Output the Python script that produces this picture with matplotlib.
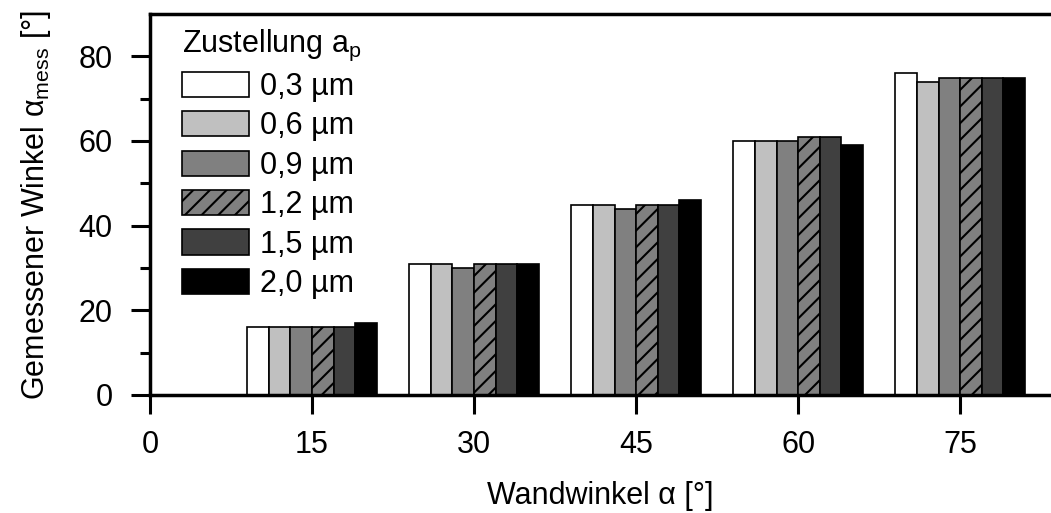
import matplotlib
matplotlib.use('Agg')
import matplotlib.pyplot as plt
import numpy as np

plt.rcParams['font.family'] = ['Liberation Sans', 'DejaVu Sans']
plt.rcParams['mathtext.fontset'] = 'custom'
plt.rcParams['mathtext.rm'] = 'Liberation Sans'
plt.rcParams['mathtext.it'] = 'Liberation Sans:italic'
plt.rcParams['hatch.linewidth'] = 1.5

# data
angles = [15, 30, 45, 60, 75]
feeds = ['0,3 µm', '0,6 µm', '0,9 µm', '1,2 µm', '1,5 µm', '2,0 µm']
measured = [
    [16, 31, 45, 60, 76],   # 0,3
    [16, 31, 45, 60, 74],   # 0,6
    [16, 30, 44, 60, 75],   # 0,9
    [16, 31, 45, 61, 75],   # 1,2
    [16, 31, 45, 61, 75],   # 1,5
    [17, 31, 46, 59, 75],   # 2,0
]
colors = ['white', '#c0c0c0', '#808080', '#808080', '#404040', 'black']
hatches = [None, None, None, '//', None, None]

fig = plt.figure(figsize=(10.51, 5.13), dpi=100)
ax = fig.add_axes([150/1051, 1-395/513, 1-150/1051, (395-14)/513])

w = 2
offsets = [-5, -3, -1, 1, 3, 5]
x = np.array(angles)
for i in range(len(feeds)):
    ax.bar(x + offsets[i], measured[i], width=w, color=colors[i],
           edgecolor='black', linewidth=1.2, hatch=hatches[i], label=feeds[i])

ax.set_xlim(0, 83.4)
ax.set_ylim(0, 90)
ax.set_xticks([0, 15, 30, 45, 60, 75])
ax.set_yticks([0, 20, 40, 60, 80])
ax.set_yticks([10, 30, 50, 70], minor=True)
ax.tick_params(axis='both', which='major', direction='out', length=14, width=2.2,
               labelsize=22)
ax.tick_params(axis='x', which='major', pad=11)
ax.tick_params(axis='y', which='major', pad=13)
ax.tick_params(axis='y', which='minor', direction='out', length=7, width=2.2)
ax.spines['right'].set_visible(False)
for s in ['left', 'top', 'bottom']:
    ax.spines[s].set_linewidth(2.5)

ax.set_xlabel('Wandwinkel α [°]', fontsize=22, labelpad=15)
ax.set_ylabel(r'Gemessener Winkel α$_{\mathrm{mess}}$ [°]', fontsize=22, labelpad=18)

leg = ax.legend(title=r'Zustellung a$_\mathrm{p}$', loc='upper left', frameon=False,
                fontsize=22, title_fontsize=22, handlelength=2.2, handleheight=0.9,
                labelspacing=0.3, handletextpad=0.35, borderaxespad=0.2,
                bbox_to_anchor=(0.015, 1.013))
leg._legend_box.align = 'left'

fig.savefig('out.png', dpi=100)
